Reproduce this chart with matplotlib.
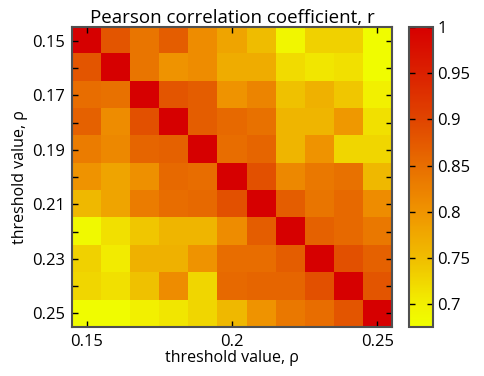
import numpy as np
import matplotlib
matplotlib.use("Agg")
import matplotlib.pyplot as plt
from matplotlib.colors import LinearSegmentedColormap

plt.rcParams['font.family'] = ['Open Sans', 'DejaVu Sans']

thresholds = [0.15, 0.16, 0.17, 0.18, 0.19, 0.20, 0.21, 0.22, 0.23, 0.24, 0.25]

# correlation values, row = y threshold, col = x threshold
r = np.array([
    [1.000, 0.880, 0.840, 0.870, 0.810, 0.780, 0.750, 0.690, 0.730, 0.730, 0.680],
    [0.880, 1.000, 0.840, 0.800, 0.810, 0.770, 0.770, 0.720, 0.710, 0.715, 0.680],
    [0.850, 0.845, 1.000, 0.880, 0.870, 0.800, 0.820, 0.745, 0.765, 0.740, 0.700],
    [0.865, 0.810, 0.885, 1.000, 0.870, 0.855, 0.845, 0.760, 0.760, 0.795, 0.715],
    [0.830, 0.815, 0.860, 0.865, 1.000, 0.850, 0.860, 0.760, 0.800, 0.725, 0.725],
    [0.800, 0.780, 0.805, 0.855, 0.850, 1.000, 0.885, 0.815, 0.835, 0.845, 0.755],
    [0.755, 0.780, 0.830, 0.850, 0.855, 0.885, 1.000, 0.870, 0.840, 0.855, 0.810],
    [0.685, 0.715, 0.740, 0.760, 0.760, 0.810, 0.870, 1.000, 0.865, 0.855, 0.835],
    [0.730, 0.705, 0.765, 0.765, 0.800, 0.850, 0.850, 0.870, 1.000, 0.885, 0.865],
    [0.725, 0.715, 0.745, 0.810, 0.725, 0.855, 0.860, 0.860, 0.885, 1.000, 0.880],
    [0.680, 0.680, 0.700, 0.710, 0.725, 0.755, 0.800, 0.835, 0.850, 0.880, 1.000],
])

vmin, vmax = 0.675, 1.0
anchors = [
    (0.675, (0.94, 1.00, 0.0)),
    (0.70, (0.95, 0.94, 0.0)),
    (0.75, (0.94, 0.74, 0.0)),
    (0.80, (0.94, 0.58, 0.0)),
    (0.85, (0.91, 0.43, 0.0)),
    (0.90, (0.88, 0.27, 0.0)),
    (0.95, (0.86, 0.13, 0.0)),
    (1.00, (0.84, 0.00, 0.0)),
]
cmap = LinearSegmentedColormap.from_list(
    'yor', [((v - vmin) / (vmax - vmin), c) for v, c in anchors])

fig = plt.figure(figsize=(4.84, 3.76), dpi=100)
ax = fig.add_axes([0.149, 0.130, 0.661, 0.798])
cax = fig.add_axes([0.845, 0.130, 0.050, 0.798])

step = 0.01
im = ax.imshow(r, cmap=cmap, vmin=vmin, vmax=vmax, aspect='auto',
               interpolation='nearest',
               extent=[thresholds[0] - step / 2, thresholds[-1] + step / 2,
                       thresholds[-1] + step / 2, thresholds[0] - step / 2])

spine_col = '#505050'
for a in (ax, cax):
    for s in a.spines.values():
        s.set_color(spine_col)
        s.set_linewidth(1.5)

ax.set_xticks([0.15, 0.2, 0.25])
ax.set_xticklabels(['0.15', '0.2', '0.25'])
ax.set_yticks(thresholds)
ax.set_yticklabels([f'{t:.2f}' if i % 2 == 0 else '' for i, t in enumerate(thresholds)])
ax.tick_params(direction='in', top=True, right=True, length=4, width=1,
               color='black', labelsize=12, pad=5)

ax.set_xlabel('threshold value, \u03c1', fontsize=11.5, labelpad=0)
ax.set_ylabel('threshold value, \u03c1', fontsize=11.5, labelpad=3)
ax.set_title('Pearson correlation coefficient, r', fontsize=13.5, pad=3)

cb = fig.colorbar(im, cax=cax)
cb.set_ticks([0.7, 0.75, 0.8, 0.85, 0.9, 0.95, 1.0])
cb.set_ticklabels(['0.7', '0.75', '0.8', '0.85', '0.9', '0.95', '1'])
cax.tick_params(direction='in', left=True, right=True, length=4, width=1,
                labelsize=12, pad=3)
cb.outline.set_edgecolor(spine_col)
cb.outline.set_linewidth(1.5)

fig.savefig('out.png', dpi=100)
